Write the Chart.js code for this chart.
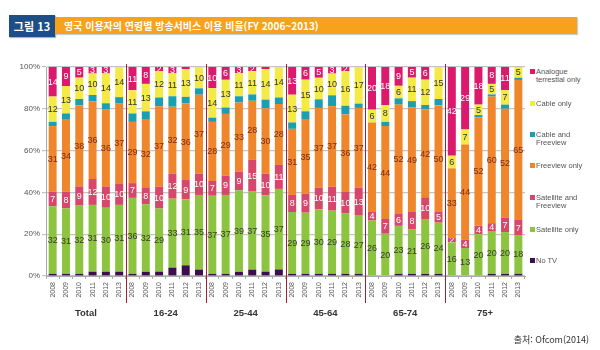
<!DOCTYPE html>
<html lang="ko">
<head>
<meta charset="UTF-8">
<title>영국 이용자의 연령별 방송서비스 이용 비율</title>
<script src="https://cdn.jsdelivr.net/npm/chart.js"></script>
<style>
    body {
        margin: 0;
        width: 600px;
        height: 350px;
        background: #fff;
        position: relative;
        overflow: hidden;
        font-family: 'Noto Sans CJK KR', 'Liberation Sans', sans-serif;
    }
    .fig-no {
        position: absolute;
        left: 9px; top: 15px;
        width: 46px; height: 22px;
        background: #1d4f86;
        color: #fff;
        font-weight: 700;
        font-size: 11px;
        line-height: 22px;
        text-align: center;
        box-shadow: 1px 1px 1px rgba(0,0,0,0.3);
    }
    .fig-title {
        position: absolute;
        left: 55px; top: 17px;
        width: 522px; height: 17px;
        background: #f7a21c;
        color: #fff;
        font-weight: 700;
        font-size: 10px;
        line-height: 17px;
        padding-left: 9px;
        box-sizing: border-box;
        box-shadow: 1px 1px 1px rgba(0,0,0,0.2);
    }
    .chart-box {
        position: absolute;
        left: 0; top: 50px;
        width: 530px; height: 290px;
    }
    .legend {
        position: absolute;
        left: 530px; top: 0;
        font-family: 'Liberation Sans', sans-serif;
        font-size: 7.5px;
        color: #555;
        line-height: 7.5px;
    }
    .legend div { position: absolute; white-space: nowrap; padding-left: 6px; }
    .legend span {
        position: absolute; left: 0; top: 1px;
        width: 5px; height: 5px;
    }
    .source {
        position: absolute;
        right: 11px; top: 333px;
        font-size: 9px;
        color: #333;
    }
</style>
</head>
<body>

<div class="fig-no">그림 13</div>
<div class="fig-title">영국 이용자의 연령별 방송서비스 이용 비율(FY 2006~2013)</div>

<div class="chart-box">
    <canvas id="tvChart" width="530" height="290"></canvas>
</div>

<div class="legend" id="legend"></div>
<div class="source">출처: Ofcom(2014)</div>

<script>
    // groups and years along the x axis
    const groups = ['Total', '16-24', '25-44', '45-64', '65-74', '75+'];
    const years = ['2008', '2009', '2010', '2011', '2012', '2013'];

    // values per bar (% of users), 6 years per group
    const noTV = [
        1, 1, 1, 2, 2, 2,
        1, 2, 2, 4, 5, 3,
        1, 1, 2, 3, 2, 3,
        1, 1, 1, 1, 1, 1,
        0, 0, 1, 1, 1, 1,
        0, 0, 0, 1, 1, 1
    ];
    const satelliteOnly = [
        32, 31, 32, 31, 30, 31,
        36, 32, 29, 33, 31, 35,
        37, 37, 39, 37, 35, 37,
        29, 29, 30, 29, 28, 27,
        26, 20, 23, 21, 26, 24,
        16, 13, 20, 20, 20, 18
    ];
    const satelliteFreeview = [
        7, 8, 9, 12, 10, 10,
        7, 8, 10, 12, 9, 10,
        7, 9, 9, 15, 10, 11,
        8, 9, 10, 11, 10, 13,
        4, 7, 6, 8, 10, 5,
        2, 4, 4, 4, 7, 7
    ];
    const freeviewOnly = [
        31, 34, 38, 36, 36, 37,
        29, 32, 37, 32, 36, 37,
        28, 29, 33, 28, 30, 28,
        31, 35, 37, 37, 36, 37,
        42, 44, 52, 49, 42, 50,
        33, 44, 52, 60, 52, 65
    ];
    const cableFreeview = [
        2, 3, 3, 3, 3, 3,
        4, 4, 4, 5, 3, 3,
        2, 3, 3, 3, 4, 3,
        3, 4, 4, 5, 4, 2,
        0, 2, 3, 3, 2, 3,
        0, 0, 1, 1, 2, 1
    ];
    const cableOnly = [
        12, 13, 10, 10, 14, 14,
        11, 13, 12, 11, 13, 10,
        14, 13, 11, 11, 14, 14,
        13, 15, 10, 10, 16, 17,
        6, 8, 6, 11, 12, 15,
        6, 7, 5, 5, 7, 5
    ];
    const analogueOnly = [
        14, 9, 5, 3, 3, 0,
        11, 8, 2, 3, 1, 0,
        10, 6, 3, 2, 1, 0,
        13, 6, 5, 3, 2, 0,
        20, 18, 9, 5, 6, 0,
        42, 29, 18, 8, 11, 0
    ];

    const yTicks = ['0%', '20%', '40%', '60%', '80%', '100%'];

    // series, bottom to top of each bar
    const series = [
        { name: 'No TV', values: noTV, color: '#3b0f4c', text: null },
        { name: 'Satellite only', values: satelliteOnly, color: '#8cc43f', text: '#3b3b2a' },
        { name: 'Satellite and\nFreeview', values: satelliteFreeview, color: '#d6476b', text: '#ffffff' },
        { name: 'Freeview only', values: freeviewOnly, color: '#f0862b', text: '#7a2c16' },
        { name: 'Cable and\nFreeview', values: cableFreeview, color: '#1b9fb0', text: null },
        { name: 'Cable only', values: cableOnly, color: '#f4ea45', text: '#333333' },
        { name: 'Analogue\nterrestial only', values: analogueOnly, color: '#dc1a6d', text: '#ffffff' }
    ];

    const labels = groups.flatMap(() => years);

    // 100% stacked: each bar is scaled to its own total
    const totals = labels.map((_, i) => series.reduce((s, d) => s + d.values[i], 0));

    const datasets = series.map(s => ({
        label: s.name,
        data: s.values.map((v, i) => v / totals[i] * 100),
        raw: s.values,
        textColor: s.text,
        backgroundColor: s.color,
        borderWidth: 0,
        barPercentage: 0.6,
        categoryPercentage: 1.0
    }));

    // numbers inside the segments
    const segmentLabels = {
        id: 'segmentLabels',
        afterDatasetsDraw(chart) {
            const ctx = chart.ctx;
            ctx.save();
            ctx.font = '9px "Liberation Sans", sans-serif';
            ctx.textAlign = 'center';
            ctx.textBaseline = 'middle';
            chart.data.datasets.forEach((ds, di) => {
                if (!ds.textColor) return;
                chart.getDatasetMeta(di).data.forEach((bar, i) => {
                    const v = ds.raw[i];
                    if (v < 2) return;
                    ctx.save();
                    ctx.beginPath();
                    ctx.rect(bar.x - 8, Math.min(bar.y, bar.base), 16, Math.abs(bar.base - bar.y));
                    ctx.clip();
                    ctx.fillStyle = ds.textColor;
                    ctx.fillText(v, bar.x, (bar.y + bar.base) / 2 + 0.5);
                    ctx.restore();
                });
            });
            ctx.restore();
        }
    };

    // group dividers and group names under the years
    const groupAxis = {
        id: 'groupAxis',
        afterDraw(chart) {
            const ctx = chart.ctx;
            const x = chart.scales.x;
            const area = chart.chartArea;
            ctx.save();
            ctx.strokeStyle = '#9e2138';
            ctx.lineWidth = 1;
            for (let g = 1; g < groups.length; g++) {
                const px = Math.round((x.getPixelForValue(g * 6 - 1) + x.getPixelForValue(g * 6)) / 2) + 0.5;
                ctx.beginPath();
                ctx.moveTo(px, area.top - 3);
                ctx.lineTo(px, area.bottom + 27);
                ctx.stroke();
            }
            ctx.fillStyle = '#333';
            ctx.font = 'bold 9.5px "Liberation Sans", sans-serif';
            ctx.textAlign = 'center';
            ctx.textBaseline = 'middle';
            groups.forEach((name, g) => {
                const cx = (x.getPixelForValue(g * 6) + x.getPixelForValue(g * 6 + 5)) / 2;
                ctx.fillText(name, cx, area.bottom + 37);
            });
            ctx.restore();
        }
    };

    new Chart(document.getElementById('tvChart'), {
        type: 'bar',
        data: { labels: labels, datasets: datasets },
        options: {
            responsive: false,
            animation: false,
            layout: { padding: { top: 17, right: 5, left: 0, bottom: 0 } },
            plugins: {
                legend: { display: false },
                tooltip: { enabled: false }
            },
            scales: {
                x: {
                    stacked: true,
                    afterFit: s => { s.height = 64; },
                    grid: { display: true, drawOnChartArea: false, tickLength: 3, color: '#aaa', offset: true },
                    border: { color: '#aaa' },
                    ticks: {
                        autoSkip: false,
                        maxRotation: 90,
                        minRotation: 90,
                        padding: 3,
                        color: '#555',
                        font: { size: 7, family: '"Liberation Sans", sans-serif' }
                    }
                },
                y: {
                    stacked: true,
                    min: 0,
                    max: 100,
                    afterFit: s => { s.width = 46; },
                    grid: { color: '#c4c4c4', lineWidth: 1.2, tickLength: 4 },
                    border: { color: '#aaa' },
                    ticks: {
                        stepSize: 20,
                        padding: 2,
                        color: '#555',
                        font: { size: 8, family: '"Liberation Sans", sans-serif' },
                        callback: (v, i) => yTicks[i]
                    }
                }
            }
        },
        plugins: [segmentLabels, groupAxis]
    });

    // legend on the right, top entry first
    const legendTops = [71, 103, 134, 165, 197, 229, 260];
    const legend = document.getElementById('legend');
    series.slice().reverse().forEach((s, i) => {
        const item = document.createElement('div');
        item.style.top = (legendTops[i] - 3) + 'px';
        item.innerHTML = '<span style="background:' + s.color + '"></span>' + s.name.replace('\n', '<br>');
        legend.appendChild(item);
    });
</script>
</body>
</html>
